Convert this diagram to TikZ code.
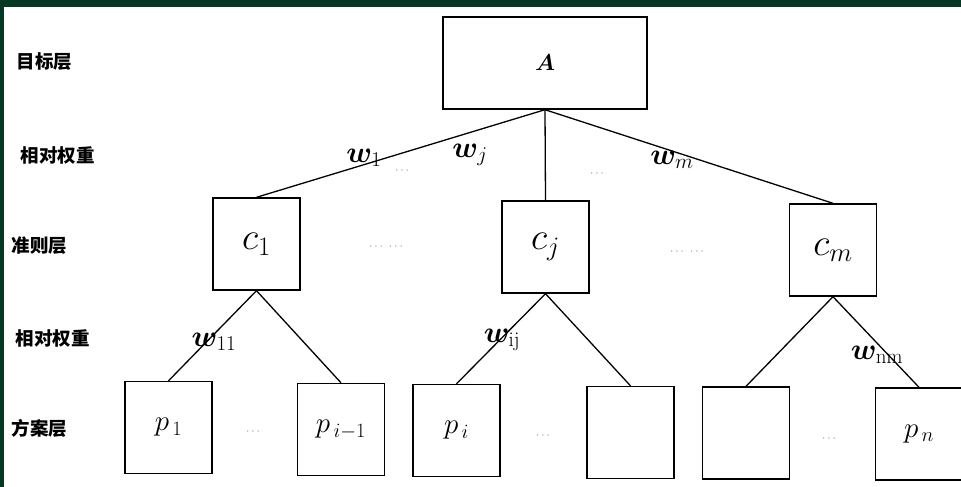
\RequirePackage{fix-cm}
\documentclass[tikz,border=0pt]{standalone}
\usepackage{amsmath}
\usepackage{bm}
\usepackage{fontspec}
\newfontfamily\cjk{Noto Sans CJK SC}
\definecolor{frame}{HTML}{053823}

\begin{document}
\begin{tikzpicture}[x=1pt, y=-1pt,
    box/.style={draw, line width=1.4pt, minimum width=87pt, minimum height=92pt, inner sep=0pt},
    big/.style={font=\fontsize{38}{38}\selectfont},
    mid/.style={font=\fontsize{29}{29}\selectfont},
    layer/.style={anchor=west, font=\cjk\bfseries\fontsize{18.5}{18.5}\selectfont},
    wt/.style={font=\fontsize{30}{30}\selectfont},
    dotted gap/.style={text=black!45, font=\fontsize{12}{12}\selectfont},
    link/.style={line width=1.3pt}]
    \useasboundingbox (0,0) rectangle (961,487);
    % Khung nen
    \fill[white] (0,0) rectangle (961,487);
    \fill[frame] (0,0) rectangle (961,7);
    \fill[frame] (0,0) rectangle (4,487);

    % Ten cac tang
    \node[layer] (L1) at (13,62) {目标层};
    \node[layer] (L2) at (17,155) {相对权重};
    \node[layer] (L3) at (8,246) {准则层};
    \node[layer] (L4) at (12,338) {相对权重};
    \node[layer] (L5) at (8,428) {方案层};

    % Cac hop
    \node[box, minimum width=204pt, font=\fontsize{23}{23}\selectfont] (A) at (545,63) {$\bm{A}$};
    \node[box, big] (c1) at (256.5,244) {$c_{1}$};
    \node[box, big] (cj) at (545.5,247) {$c_{j}$};
    \node[box, big] (cm) at (833,250) {$c_{m}$};
    \node[box, mid] (p1) at (168.5,427.5) {$p_{\,1}$};
    \node[box, mid] (pim1) at (341,429.5) {$p_{\,i-1}$};
    \node[box, mid] (pi) at (456.5,430.5) {$p_{\,i}$};
    \node[box] (p4) at (630.5,432.5) {};
    \node[box] (p5) at (746,433) {};
    \node[box, mid] (pn) at (919,434) {$p_{\,n}$};

    % Cac duong noi
    \draw[link] (A.south) -- (c1.north);
    \draw[link] (A.south) -- (cj.north);
    \draw[link] (A.south) -- (cm.north);
    \draw[link] (c1.south) -- (p1.north);
    \draw[link] (c1.south) -- (pim1.north);
    \draw[link] (cj.south) -- (pi.north);
    \draw[link] (cj.south) -- (p4.north);
    \draw[link] (cm.south) -- (p5.north);
    \draw[link] (cm.south) -- (pn.north);

    % Trong so
    \node[wt] (w1) at (364,158) {$\bm{w}_{1}$};
    \node[wt] (wj) at (470,155) {$\bm{w}_{j}$};
    \node[wt] (wm) at (672,160) {$\bm{w}_{m}$};
    \node[wt] (w11) at (214,342) {$\bm{w}_{\mathrm{11}}$};
    \node[wt] (wij) at (502,340) {$\bm{w}_{\mathrm{ij}}$};
    \node[wt] (wnm) at (877,355) {$\bm{w}_{\mathrm{nm}}$};

    % Dau cham
    \node[dotted gap] (d1) at (403,171) {$\cdots$};
    \node[dotted gap] (d2) at (598,174) {$\cdots$};
    \node[dotted gap] (d3) at (387,247) {$\cdots\ \cdots$};
    \node[dotted gap] (d4) at (688,252) {$\cdots\ \cdots$};
    \node[dotted gap] (d5) at (254,432) {$\cdots$};
    \node[dotted gap] (d6) at (544,436) {$\cdots$};
    \node[dotted gap] (d7) at (830,439) {$\cdots$};
\end{tikzpicture}
\end{document}
